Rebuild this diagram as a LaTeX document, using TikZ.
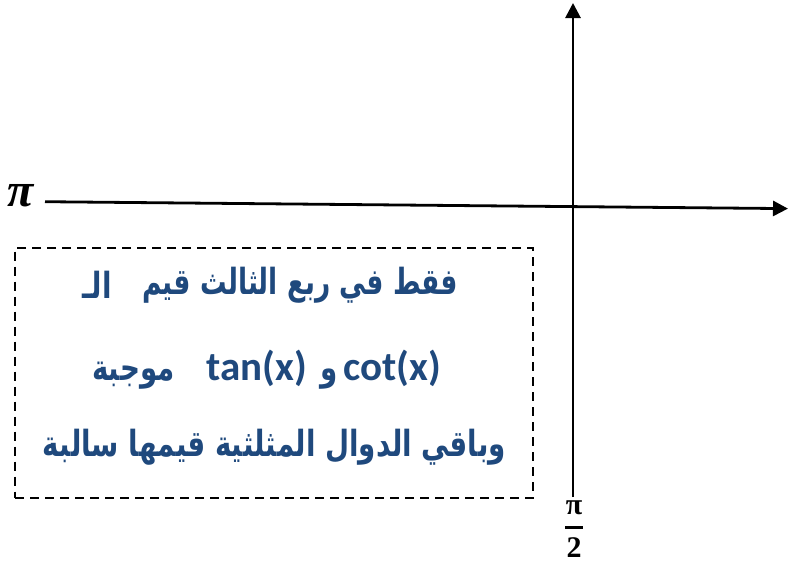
\documentclass[tikz,border=0pt]{standalone}
\usepackage{fontspec}
\usetikzlibrary{arrows.meta}
\TeXXeTstate=1
\newfontfamily\arabicfont[Script=Arabic,FakeStretch=0.77]{DejaVu Sans}
\newfontfamily\latfont{Carlito}
\newfontfamily\serf{Liberation Serif}
\definecolor{txtblue}{HTML}{1F497D}
\begin{document}
\begin{tikzpicture}[x=1pt,y=-1pt,
  axis/.style={line width=2.8pt, -{Triangle[length=15pt,width=15pt]}},
  dbox/.style={draw, line width=2pt, dash pattern=on 9pt off 6pt, minimum width=518pt, minimum height=250pt, inner sep=0pt},
  artext/.style={text=txtblue, inner sep=0pt, font=\arabicfont\bfseries\fontsize{36}{40}\selectfont},
  lbl/.style={inner sep=0pt, font=\serf\bfseries\fontsize{30}{32}\selectfont}]
\useasboundingbox (0,0) rectangle (789,563);
\coordinate (hstart) at (45,201.7);
\coordinate (hend) at (788,208.6);
\coordinate (vstart) at (573,497);
\coordinate (vend) at (573,3);
\draw[axis] (hstart) -- (hend);
\draw[axis] (vstart) -- (vend);
\node[lbl, font=\serf\bfseries\itshape\fontsize{48}{50}\selectfont] (pi) at (21,196) {π};
\node[lbl] (pnum) at (574,508) {π};
\node[lbl] (pden) at (574,548) {2};
\coordinate (barl) at (565,527);
\coordinate (barr) at (583,527);
\draw[line width=3pt] (barl) -- (barr);
\node[dbox] (box) at (274,372.5) {};
\node[artext, anchor=east] (l1a) at (458,285) {\scalebox{0.955}[1]{\beginR فقط في ربع الثالث قيم\endR}};
\node[artext] (l1b) at (97,285) {\beginR الـ\endR};
\node[artext] (l2) at (266.5,370) {\beginR{\latfont\bfseries\fontsize{41}{44}\selectfont\beginL cot(x)\endL}\hspace{6pt}و\hspace{13pt}{\latfont\bfseries\fontsize{41}{44}\selectfont\beginL tan(x)\endL}\hspace{32pt}موجبة\endR};
\node[artext] (l3) at (274.5,447) {\beginR وباقي الدوال المثلثية قيمها سالبة\endR};
\end{tikzpicture}
\end{document}
